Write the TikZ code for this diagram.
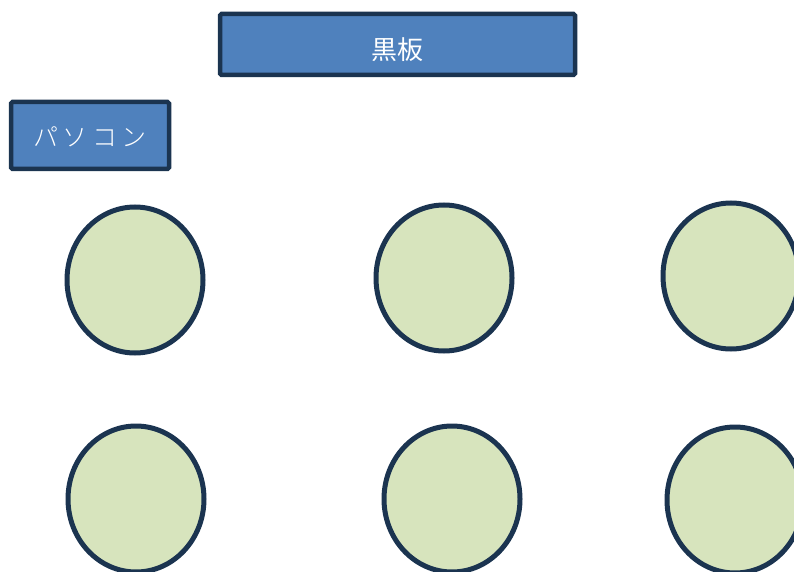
\documentclass[tikz,border=0pt]{standalone}
\usepackage{fontspec}
\newfontfamily\cjk{Noto Sans CJK JP}
\newfontfamily\cjklight{Noto Sans CJK JP Light}
\definecolor{navy}{HTML}{1B3450}
\definecolor{boxblue}{HTML}{4F81BD}
\definecolor{seatgreen}{HTML}{D7E4BD}
\tikzset{
  bluebox/.style={draw=navy, line width=4.5pt, fill=boxblue, rounded corners=1.5pt, text=white},
  seat/.style={draw=navy, line width=5pt, fill=seatgreen}
}
\begin{document}
\begin{tikzpicture}[x=1pt,y=-1pt]
\useasboundingbox (0,0) rectangle (794,572);
\begin{scope}
\clip (0,0) rectangle (794,572);
\node[bluebox, minimum width=355pt, minimum height=61pt] (board) at (397.5,44.5) {};
\node[text=white, font=\cjk\fontsize{26}{30}\selectfont] (boardlabel) at (397.5,50) {黒板};
\node[bluebox, minimum width=158pt, minimum height=67pt] (pc) at (90,135.5) {};
\node[text=white, font=\cjklight\fontsize{25}{30}\selectfont] (pclabel) at (90,137) {パ\,ソ\,コ\,ン};
\draw[seat] (135,280) ellipse [x radius=68, y radius=73];
\draw[seat] (444,278) ellipse [x radius=68, y radius=73];
\draw[seat] (731,276) ellipse [x radius=68, y radius=73];
\draw[seat] (136,499) ellipse [x radius=68, y radius=73];
\draw[seat] (452,499) ellipse [x radius=68, y radius=73];
\draw[seat] (735,500) ellipse [x radius=68, y radius=73];
\end{scope}
\end{tikzpicture}
\end{document}
